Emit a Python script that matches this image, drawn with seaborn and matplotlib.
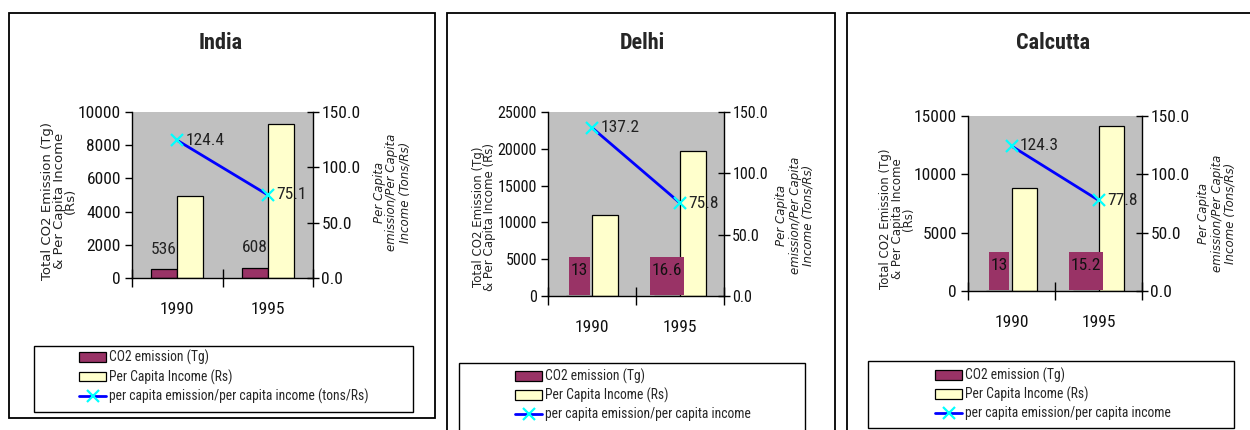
import numpy as np
import pandas as pd
import matplotlib
matplotlib.use('Agg')
import matplotlib.pyplot as plt
from matplotlib.path import Path
from matplotlib.patches import Rectangle, Patch
import seaborn as sns

years = ['1990', '1995']
series = ['CO2 emission (Tg)', 'Per Capita Income (Rs)']

india_co2 = [536, 608]
india_income = [4920, 9300]
india_ratio = [124.4, 75.1]

delhi_co2 = [13, 16.6]
delhi_income = [11050, 19750]
delhi_ratio = [137.2, 75.8]

calcutta_co2 = [13, 15.2]
calcutta_income = [8870, 14140]
calcutta_ratio = [124.3, 77.8]

ratio_label_long = 'per capita emission/per capita income (tons/Rs)'
ratio_label_short = 'per capita emission/per capita income'

maroon = '#993366'
cream = '#FFFFCC'

sns.set_theme(style='white')
plt.rcParams['font.family'] = ['Roboto Condensed', 'Liberation Sans', 'DejaVu Sans']
plt.rcParams['axes.linewidth'] = 1.0

W, H = 1250, 430
fig = plt.figure(figsize=(12.5, 4.3), dpi=100)


def fx(px):
    return px / W


def fy(py):
    return 1 - py / H


# box behind the small co2 labels: tall, hugging the text sideways
def label_box(x0, y0, width, height, mutation_size):
    padx = 0.1 * mutation_size
    x1, x2 = x0 - padx, x0 + width + padx
    y1 = y0 - 1.0 * mutation_size
    y2 = y0 + height + 0.33 * mutation_size
    return Path([(x1, y1), (x2, y1), (x2, y2), (x1, y2), (x1, y1)], closed=True)


panels = [
    dict(name='India', co2=india_co2, income=india_income, ratio=india_ratio,
         ymax=10000, ystep=2000, ax=(132, 112, 313, 278), title_x=221,
         frame=(9, 13, 435, 418), legend_frame=(34, 346, 413, 412),
         legend_c=(224, 377), ratio_label=ratio_label_long, tick_fs=12.5,
         ylab='Total CO2 Emission (Tg)\n& Per Capita Income\n(Rs)', ylab_c=(59, 201), ylab_fs=9.5,
         y2lab_c=(392, 192), boxed=False),
    dict(name='Delhi', co2=delhi_co2, income=delhi_income, ratio=delhi_ratio,
         ymax=25000, ystep=5000, ax=(548, 112, 724, 296), title_x=642,
         frame=(447, 13, 835, 450), legend_frame=(459, 363, 805, 450),
         legend_c=(633, 395), ratio_label=ratio_label_short, tick_fs=11.5,
         ylab='Total CO2 Emission (Tg)\n& Per Capita Income (Rs)', ylab_c=(484, 217), ylab_fs=8.5,
         y2lab_c=(795, 215), boxed=True),
    dict(name='Calcutta', co2=calcutta_co2, income=calcutta_income, ratio=calcutta_ratio,
         ymax=15000, ystep=5000, ax=(968, 116, 1142, 291), title_x=1053,
         frame=(847, 13, 1270, 450), legend_frame=(868, 361, 1234, 428),
         legend_c=(1053, 394), ratio_label=ratio_label_short, tick_fs=12.5,
         ylab='Total CO2 Emission (Tg)\n& Per Capita Income\n(Rs)', ylab_c=(897, 219), ylab_fs=8.5,
         y2lab_c=(1217, 213), boxed=True),
]

for p in panels:
    # panel frame and legend frame
    x0, y0, x1, y1 = p['frame']
    fig.patches.append(Rectangle((fx(x0), fy(y1)), fx(x1 - x0), (y1 - y0) / H,
                                 transform=fig.transFigure, fill=False,
                                 edgecolor='black', linewidth=1.3))
    x0, y0, x1, y1 = p['legend_frame']
    fig.patches.append(Rectangle((fx(x0), fy(y1)), fx(x1 - x0), (y1 - y0) / H,
                                 transform=fig.transFigure, fill=False,
                                 edgecolor='black', linewidth=1.0))

    l, t, r, b = p['ax']
    ax = fig.add_axes([fx(l), fy(b), fx(r - l), (b - t) / H])
    ax.set_facecolor('#C0C0C0')

    df = pd.DataFrame({
        'year': years * 2,
        'series': [series[0]] * 2 + [series[1]] * 2,
        'value': list(p['co2']) + list(p['income']),
    })
    sns.barplot(data=df, x='year', y='value', hue='series', hue_order=series,
                palette=[maroon, cream], saturation=1, width=0.58, errorbar=None,
                edgecolor='black', linewidth=0.9, legend=False, ax=ax)

    # co2 value labels
    for bar, v in zip(ax.containers[0], p['co2']):
        cx = bar.get_x() + bar.get_width() / 2
        txt = f'{v:g}'
        if p['boxed']:
            ax.annotate(txt, (cx, 0), xytext=(0, 18.5), textcoords='offset points',
                        ha='center', va='center', fontsize=12.5, color='#111111', zorder=5,
                        bbox=dict(boxstyle=label_box, facecolor=maroon, edgecolor='none'))
        else:
            ax.annotate(txt, (cx, v), xytext=(0, 9), textcoords='offset points',
                        ha='center', va='bottom', fontsize=12.5, color='#222222')

    ax2 = ax.twinx()
    sns.pointplot(x=years, y=p['ratio'], ax=ax2, color='#0000FF', markers='x',
                  linestyles='-', errorbar=None, markersize=9, linewidth=2,
                  markeredgewidth=1.6)
    line = ax2.lines[0]
    line.set_markeredgecolor('#00FFFF')
    line.set_markerfacecolor('#00FFFF')
    for i, v in enumerate(p['ratio']):
        ax2.annotate(f'{v:.1f}', (i, v), xytext=(6, 0), textcoords='offset points',
                     ha='left', va='center', fontsize=12.5, color='#222222')

    ax.set_ylim(0, p['ymax'])
    ax.set_yticks(np.arange(0, p['ymax'] + 1, p['ystep']))
    ax2.set_ylim(0, 150)
    ax2.set_yticks([0, 50, 100, 150])
    ax2.set_yticklabels([f'{v:.1f}' for v in [0, 50, 100, 150]])

    ax.set_xlim(-0.5, 1.5)
    ax.set_xticks([-0.5, 0.5, 1.5])
    ax.set_xticklabels(['', '', ''])
    ax.set_xticks([0, 1], years, minor=True)
    ax.set_xlabel('')
    ax.set_ylabel('')
    ax2.set_xlabel('')
    ax2.set_ylabel('')

    for s in ['top', 'right']:
        ax.spines[s].set_visible(False)
    for s in ['top', 'left', 'bottom']:
        ax2.spines[s].set_visible(False)
    ax.spines['left'].set_color('black')
    ax.spines['bottom'].set_color('black')
    ax2.spines['right'].set_color('black')

    fs = p['tick_fs']
    ax.tick_params(axis='y', which='major', direction='out', length=5, width=1,
                   color='black', labelsize=fs, pad=3, left=True, labelcolor='#111111')
    ax.tick_params(axis='x', which='major', direction='inout', length=13, width=1,
                   color='black', bottom=True)
    ax.tick_params(axis='x', which='minor', length=0, pad=17, labelsize=12.5,
                   labelcolor='#111111')
    ax2.tick_params(axis='y', direction='inout', length=8, width=1, color='black',
                    labelsize=fs, pad=2, right=True, labelcolor='#111111')
    ax.grid(False)
    ax2.grid(False)

    fig.text(fx(p['title_x']), fy(43), p['name'], ha='center', va='center',
             fontsize=16, fontweight='bold')

    fig.text(fx(p['ylab_c'][0]), fy(p['ylab_c'][1]), p['ylab'], rotation=90,
             ha='center', va='center', multialignment='center',
             fontsize=p['ylab_fs'], linespacing=0.8, family='DejaVu Sans', color='#222222')
    fig.text(fx(p['y2lab_c'][0]), fy(p['y2lab_c'][1]),
             'Per Capita\nemission/Per Capita\nIncome (Tons/Rs)', rotation=90,
             ha='center', va='center', multialignment='center', fontsize=8.5,
             linespacing=1.0, family='DejaVu Sans', style='italic', color='#222222')

    handles = [Patch(facecolor=maroon, edgecolor='black', linewidth=0.9),
               Patch(facecolor=cream, edgecolor='black', linewidth=0.9),
               plt.Line2D([], [], color='#0000FF', linewidth=2, marker='x',
                          markersize=8, markeredgecolor='#00FFFF', markeredgewidth=1.6)]
    fig.legend(handles, series + [p['ratio_label']], loc='center',
               bbox_to_anchor=(fx(p['legend_c'][0]), fy(p['legend_c'][1])),
               frameon=False, fontsize=9.8, handlelength=2.0, handleheight=0.7,
               handletextpad=0.2, labelspacing=0.3, borderpad=0)

fig.savefig('out.png', dpi=100)
